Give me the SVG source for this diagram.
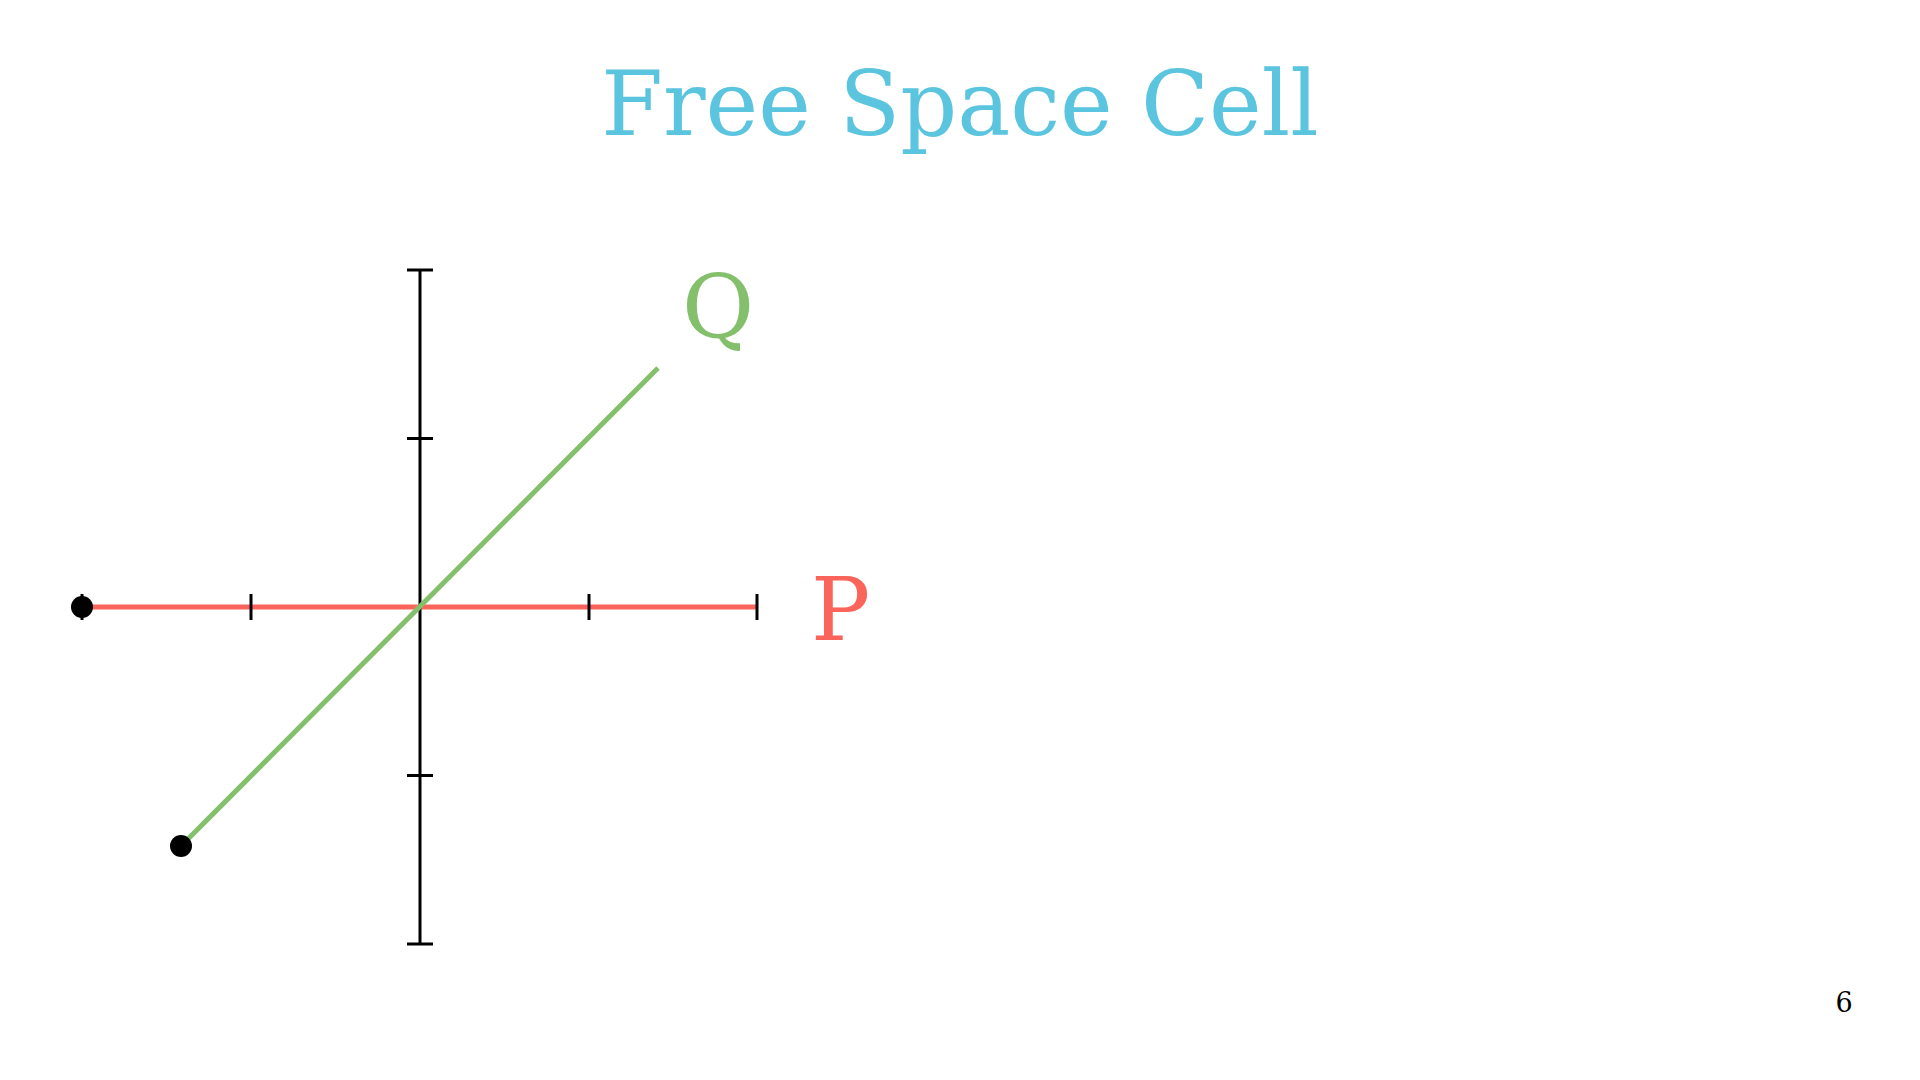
<svg xmlns="http://www.w3.org/2000/svg" width="1920" height="1080" viewBox="0 0 1920 1080">
<style>
.title{font-family:"DejaVu Serif",serif;font-size:89px;fill:#5BC4DE}
.lbl{font-family:"DejaVu Serif",serif;font-size:88px}
.axis{stroke:#000;stroke-width:3;fill:none}
.num{font-family:"DejaVu Serif",serif;font-size:27px;fill:#000}
</style>
<rect width="1920" height="1080" fill="#fff"/>
<text class="title" x="960" y="135" text-anchor="middle">Free Space Cell</text>
<g id="P-path">
<line x1="82" y1="607" x2="757" y2="607" stroke="#FA645A" stroke-width="5"/>
</g>
<g id="axes">
<line class="axis" x1="420" y1="270" x2="420" y2="944"/>
<line class="axis" x1="407" y1="270" x2="433" y2="270"/>
<line class="axis" x1="407" y1="438.5" x2="433" y2="438.5"/>
<line class="axis" x1="407" y1="775.5" x2="433" y2="775.5"/>
<line class="axis" x1="407" y1="944" x2="433" y2="944"/>
<line class="axis" x1="82" y1="594" x2="82" y2="620"/>
<line class="axis" x1="251" y1="594" x2="251" y2="620"/>
<line class="axis" x1="589" y1="594" x2="589" y2="620"/>
<line class="axis" x1="757" y1="594" x2="757" y2="620"/>
</g>
<g id="Q-path">
<line x1="181" y1="846" x2="658" y2="368" stroke="#84C06C" stroke-width="5"/>
</g>
<g id="points">
<circle cx="82" cy="607" r="11" fill="#000"/>
<circle cx="181" cy="846" r="11" fill="#000"/>
</g>
<text class="lbl" x="718" y="338" text-anchor="middle" fill="#84C06C">Q</text>
<text class="lbl" x="811" y="640" fill="#FA645A">P</text>
<text class="num" x="1844" y="1012" text-anchor="middle">6</text>
</svg>
